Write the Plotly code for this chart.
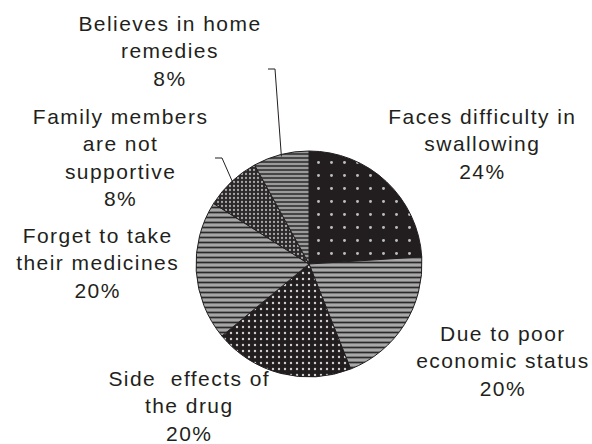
import plotly.graph_objects as go
import math

# ---- data ----
categories = [
    "Faces difficulty in<br>swallowing",
    "Due to poor<br>economic status",
    "Side\u00a0 effects of<br>the drug",
    "Forget to take<br>their medicines",
    "Family members<br>are not<br>supportive",
    "Believes in home<br>remedies",
]
values = [24, 20, 20, 20, 8, 8]

# ---- styling ----
W, H = 592, 444
cx, cy, r = 309, 264, 113  # pixel geometry of the pie

pat_shape = [".", "-", ".", "-", ".", "-"]
pat_bg = ["#221e1f", "#a9a9a9", "#221e1f", "#a6a6a6", "#2b2829", "#9a9a9a"]
pat_fg = ["#bdbdbd", "#2a2a2a", "#d0d0d0", "#2a2a2a", "#a8a8a8", "#2f2f2f"]
pat_size = [13, 5, 6, 5, 4, 4]
pat_sol = [0.04, 0.35, 0.12, 0.35, 0.25, 0.4]

fig = go.Figure()
fig.add_trace(go.Pie(
    labels=[c.replace("<br>", " ") for c in categories],
    values=values,
    sort=False,
    direction="clockwise",
    rotation=0,
    textinfo="none",
    hoverinfo="label+percent",
    showlegend=False,
    marker=dict(
        colors=pat_bg,
        line=dict(color="#231f20", width=1),
        pattern=dict(shape=pat_shape, bgcolor=pat_bg, fgcolor=pat_fg,
                     size=pat_size, solidity=pat_sol, fillmode="replace"),
    ),
    domain=dict(x=[(cx - r) / W, (cx + r) / W],
                y=[(H - cy - r) / H, (H - cy + r) / H]),
))

# label centres (pixels)
label_pos = [(482, 144), (503, 361), (189, 406), (97, 263), (120, 157), (170, 51)]
total = sum(values)
for cat, v, (lx, ly) in zip(categories, values, label_pos):
    pct = round(100 * v / total)
    fig.add_annotation(
        x=lx / W, y=1 - ly / H, xref="paper", yref="paper",
        text=f"{cat}<br>{pct}%", showarrow=False,
        xanchor="center", yanchor="middle", align="center",
        font=dict(family="Liberation Sans, Arial", size=21, color="#231f20"),
    )

# leader lines for the two small slices
cum = 0
mids = []
for v in values:
    mids.append((cum + v / 2) / total)
    cum += v

def edge(frac, inset=2):
    a = 2 * math.pi * frac
    return cx + (r - inset) * math.sin(a), cy - (r - inset) * math.cos(a)

leaders = [(4, (215, 158), (222, 158)), (5, (268, 69), (275, 69))]
for idx, p0, p1 in leaders:
    ex, ey = edge(mids[idx])
    pts = [p0, p1, (ex, ey)]
    path = "M " + " L ".join(f"{x / W:.5f},{1 - y / H:.5f}" for x, y in pts)
    fig.add_shape(type="path", path=path, xref="paper", yref="paper",
                  line=dict(color="#231f20", width=1))

fig.update_layout(
    width=W, height=H,
    margin=dict(l=0, r=0, t=0, b=0),
    paper_bgcolor="white", plot_bgcolor="white",
)

post = """
document.body.style.margin='0';
document.querySelectorAll('.annotation-text').forEach(function(e){
  e.style.letterSpacing='1.45px';
});
"""
fig.write_html("out.html", post_script=post, config={"displayModeBar": False})
